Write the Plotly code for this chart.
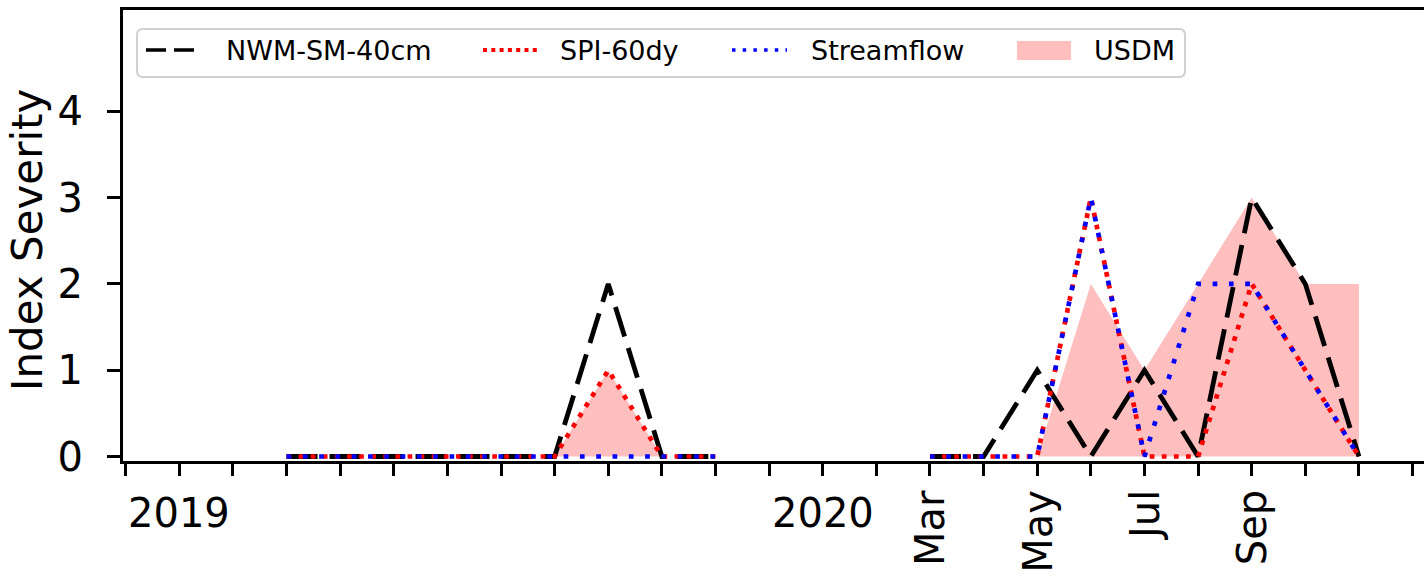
import plotly.graph_objects as go

# ---------------- data ----------------
months = ["2019-03", "2019-04", "2019-05", "2019-06", "2019-07", "2019-08", "2019-09", "2019-10", "2019-11",
          "2020-03", "2020-04", "2020-05", "2020-06", "2020-07", "2020-08", "2020-09", "2020-10", "2020-11"]
nwm_sm_40cm = [0, 0, 0, 0, 0, 0, 2, 0, 0,  0, 0, 1, 0, 1, 0, 3, 2, 0]
spi_60dy    = [0, 0, 0, 0, 0, 0, 1, 0, 0,  0, 0, 0, 3, 0, 0, 2, 1, 0]
streamflow  = [0, 0, 0, 0, 0, 0, 0, 0, 0,  0, 0, 0, 3, 0, 2, 2, 1, 0]
usdm        = [0, 0, 0, 0, 0, 0, 1, 0, 0,  0, 0, 0, 2, 1, 2, 3, 2, 2]

series_names = ["NWM-SM-40cm", "SPI-60dy", "Streamflow", "USDM"]
y_ticks = [0, 1, 2, 3, 4]
axis_first_month = "2018-12"
axis_last_month = "2020-12"
label_months = ["2019-01", "2020-01", "2020-03", "2020-05", "2020-07", "2020-09"]
label_texts = ["2019", "2020", "Mar", "May", "Jul", "Sep"]
y_title = "Index Severity"


def month_index(s):
    y, m = s.split("-")
    return (int(y) - 2019) * 12 + int(m) - 1


def with_gaps(xs, ys):
    ox, oy = [], []
    prev = None
    for x, y in zip(xs, ys):
        if prev is not None and x - prev > 1:
            ox.append(None)
            oy.append(None)
        ox.append(x)
        oy.append(y)
        prev = x
    return ox, oy


xi = [month_index(m) for m in months]

# ---------------- layout geometry ----------------
W, H = 1424, 577
L, R, T, B = 123, 0, 10, 116
PW, PH = W - L - R, H - T - B


def px(x):
    return (x - L) / PW


def py(y):
    return (H - B - y) / PH


FONT = "DejaVu Sans"
RED_FILL = "rgba(255,0,0,0.25)"

# plot line styles: (colour, dash, width)
plot_styles = [("black", "31px,12px", 4.8), ("red", "4.7px,7.4px", 4.7), ("blue", "4.7px,11.6px", 4.7)]
# legend handle styles: (x0, x1, colour, dash, width)
legend_handles = [(146, 196, "black", "20px,8px", 3.4), (483, 537, "red", "4px,4.3px", 4),
                  (732, 787, "blue", "3.5px,7.2px", 3.5)]

fig = go.Figure()

ux, uy = with_gaps(xi, usdm)
fig.add_trace(go.Scatter(x=ux, y=uy, mode="lines", fill="tozeroy", fillcolor=RED_FILL,
                         line=dict(width=0, color=RED_FILL), name=series_names[3],
                         showlegend=False, hoverinfo="skip"))

for name, vals, (col, dash, lw) in zip(series_names[:3], [nwm_sm_40cm, spi_60dy, streamflow], plot_styles):
    gx, gy = with_gaps(xi, vals)
    fig.add_trace(go.Scatter(x=gx, y=gy, mode="lines", name=name, showlegend=False,
                             line=dict(color=col, width=lw, dash=dash), connectgaps=False))

# ---------------- axes ----------------
x_lo, x_hi = month_index(axis_first_month), month_index(axis_last_month)
x0_px, month_px = 179.3, 53.62
fig.update_xaxes(range=[(L - x0_px) / month_px, (W - R - x0_px) / month_px],
                 tickvals=list(range(x_lo, x_hi + 1)), ticks="outside", ticklen=12, tickwidth=2.5,
                 tickcolor="black", showticklabels=False, showline=True, linewidth=3,
                 linecolor="black", mirror=True, showgrid=False, zeroline=False)
zero_px, unit_px = 456.5, 86.3
fig.update_yaxes(range=[-(H - B - zero_px) / unit_px, (zero_px - T) / unit_px],
                 tickvals=y_ticks, ticks="outside", ticklen=13, tickwidth=2.5, tickcolor="black",
                 tickfont=dict(family=FONT, size=40, color="black"), ticklabelstandoff=16,
                 showline=True, linewidth=3, linecolor="black", mirror=False,
                 showgrid=False, zeroline=False)

annotations = []
for m, t in zip(label_months, label_texts):
    rot = 0 if m.endswith("-01") else -90
    annotations.append(dict(x=month_index(m), y=0, xref="x", yref="paper", text=t,
                            showarrow=False, xanchor="center", yanchor="top", yshift=-(488 - (H - B)),
                            textangle=rot, font=dict(family=FONT, size=40, color="black")))

annotations.append(dict(x=px(27), y=py(240), xref="paper", yref="paper", text=y_title,
                        showarrow=False, textangle=-90, xanchor="center", yanchor="middle",
                        font=dict(family=FONT, size=42, color="black")))

# ---------------- legend (drawn) ----------------
shapes = []
bx0, bx1, by0, by1, rr = 137, 1185, 29, 77, 6
rx, ry = rr / PW, rr / PH
X0, X1, Y0, Y1 = px(bx0), px(bx1), py(by0), py(by1)
path = (f"M{X0+rx},{Y0} L{X1-rx},{Y0} Q{X1},{Y0} {X1},{Y0-ry} L{X1},{Y1+ry} Q{X1},{Y1} {X1-rx},{Y1} "
        f"L{X0+rx},{Y1} Q{X0},{Y1} {X0},{Y1+ry} L{X0},{Y0-ry} Q{X0},{Y0} {X0+rx},{Y0} Z")
shapes.append(dict(type="path", path=path, xref="paper", yref="paper",
                   line=dict(color="#d0d0d0", width=2), fillcolor="rgba(255,255,255,0.8)", layer="above"))

leg_y = 50
for (h0, h1, col, dash, lw) in legend_handles:
    shapes.append(dict(type="line", xref="paper", yref="paper", x0=px(h0), x1=px(h1),
                       y0=py(leg_y), y1=py(leg_y), line=dict(color=col, width=lw, dash=dash), layer="above"))
shapes.append(dict(type="rect", xref="paper", yref="paper", x0=px(1017), x1=px(1071),
                   y0=py(41), y1=py(60), line=dict(width=0), fillcolor=RED_FILL, layer="above"))

for name, tx in zip(series_names, [224, 558, 809, 1092]):
    annotations.append(dict(x=px(tx), y=py(leg_y), xref="paper", yref="paper", text=name,
                            showarrow=False, xanchor="left", yanchor="middle",
                            font=dict(family=FONT, size=27, color="black")))

fig.update_layout(width=W, height=H, margin=dict(l=L, r=R, t=T, b=B, pad=0),
                  plot_bgcolor="white", paper_bgcolor="white", showlegend=False,
                  annotations=annotations, shapes=shapes)

fig.write_html("out.html", config={"displayModeBar": False})
